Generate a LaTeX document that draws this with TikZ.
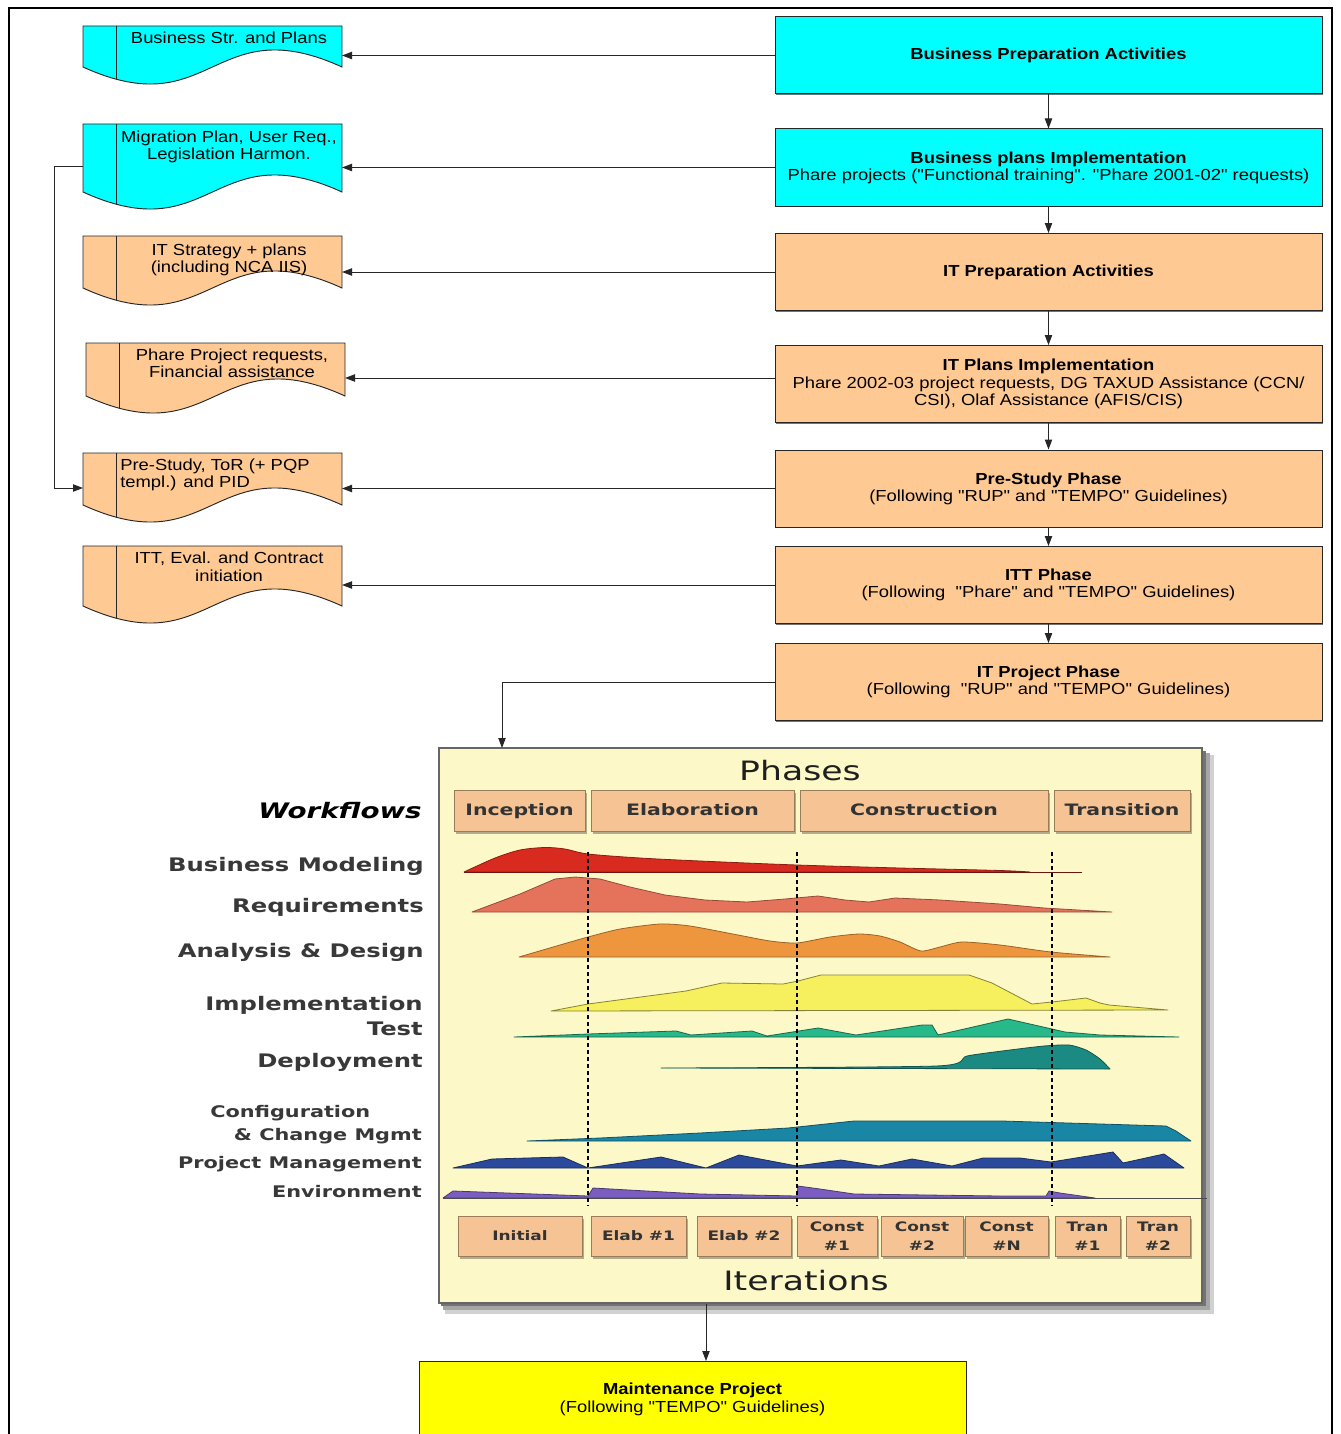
\documentclass[tikz,border=0pt]{standalone}
\usepackage{fontspec}
\setmainfont{Liberation Sans}[FakeStretch=1.15,Ligatures=TeXOff]
\newfontfamily\rupf{DejaVu Sans}[FakeStretch=1.3]
\usetikzlibrary{arrows.meta,shadows}
\definecolor{cyanfill}{HTML}{00FFFF}
\definecolor{peachfill}{HTML}{FFC993}
\definecolor{maintfill}{HTML}{FFFF00}
\definecolor{panelfill}{HTML}{FCF8C8}
\definecolor{tabfill}{HTML}{F6C494}
\definecolor{tabline}{HTML}{9A7B5A}
\definecolor{bmred}{HTML}{D82A1E}
\definecolor{reqsal}{HTML}{E5735B}
\definecolor{adorange}{HTML}{EE963E}
\definecolor{impyel}{HTML}{F6EF5E}
\definecolor{testgreen}{HTML}{28B98A}
\definecolor{depteal}{HTML}{1B8A82}
\definecolor{cfgblue}{HTML}{1A86A5}
\definecolor{pmnavy}{HTML}{2C4A9C}
\definecolor{envpurple}{HTML}{7B5DC2}
\newcommand\docshape[5]{%
  \pgfmathsetmacro\dmx{(#1+#3)/2}%
  \path[fill=#5] (#1,#2) -- (#3,#2) -- (#3,#4) .. controls (\dmx,#4-59) and (\dmx,#4+59) .. (#1,#4) -- cycle;
  \begin{scope}
    \clip (#1,#2) -- (#3,#2) -- (#3,#4) .. controls (\dmx,#4-59) and (\dmx,#4+59) .. (#1,#4) -- cycle;
    \draw[docedge] (#1+33,#2) -- (#1+33,#4+40);
  \end{scope}
  \draw[docedge] (#1,#2) -- (#3,#2) -- (#3,#4) .. controls (\dmx,#4-59) and (\dmx,#4+59) .. (#1,#4) -- cycle;
}
\begin{document}
\begin{tikzpicture}[x=0.75pt,y=-0.75pt,
  font=\fontsize{12}{13}\selectfont,
  docedge/.style={draw=black!85,line width=0.7pt},
  pbox/.style={draw=black!85,line width=0.75pt,minimum width=410.25pt,minimum height=57.75pt,inner sep=0pt,align=center,
    font=\fontsize{12}{12.9}\selectfont,
    drop shadow={shadow xshift=1pt,shadow yshift=-1pt,fill=black!55,opacity=1}},
  doctext/.style={inner sep=0pt,align=center,anchor=north,font=\fontsize{12}{13}\selectfont},
  arr/.style={draw=black!85,line width=0.75pt,-{Triangle[length=7.5pt,width=5.5pt]}},
  hump/.style={line width=0.6pt,line join=round},
  wf/.style={font=\rupf\bfseries\fontsize{14}{16}\selectfont,text=black!78,inner sep=0pt,anchor=base east},
  wfs/.style={font=\rupf\bfseries\fontsize{12}{14}\selectfont,text=black!78,inner sep=0pt,anchor=base east},
  tab/.style={draw=tabline,fill=tabfill,line width=0.6pt,inner sep=0pt,minimum height=30.75pt,
    text height=8pt,text depth=0pt,
    font=\rupf\bfseries\fontsize{11.8}{13}\selectfont,text=black!80,
    drop shadow={shadow xshift=1.5pt,shadow yshift=-2.5pt,fill=black,opacity=0.3}},
  itbox/.style={draw=tabline,fill=tabfill,line width=0.6pt,inner sep=0pt,minimum height=30pt,align=center,
    font=\rupf\bfseries\fontsize{9.8}{14}\selectfont,text=black!80,
    drop shadow={shadow xshift=1.5pt,shadow yshift=-2.5pt,fill=black,opacity=0.3}},
  vsep/.style={line width=2.1pt,dash pattern=on 3pt off 2.3pt,black}
]
\useasboundingbox (0,0) rectangle (1341,1434);
\fill[white] (0,0) rectangle (1341,1434);
% outer frame
\draw[line width=2.2pt] (9,1440) -- (9,8) -- (1332,8) -- (1332,1440);

% right-hand process boxes
\node[pbox,fill=cyanfill] (b1) at (1048.5,55.5) {\textbf{Business Preparation Activities}};
\node[pbox,fill=cyanfill] (b2) at (1048.5,167.5) {\textbf{Business plans Implementation}\\Phare projects ("Functional training". "Phare 2001-02" requests)};
\node[pbox,fill=peachfill] (b3) at (1048.5,272) {\textbf{IT Preparation Activities}};
\node[pbox,fill=peachfill] (b4) at (1048.5,384) {\textbf{IT Plans Implementation}\\Phare 2002-03 project requests, DG TAXUD Assistance (CCN/\\CSI), Olaf Assistance (AFIS/CIS)};
\node[pbox,fill=peachfill] (b5) at (1048.5,488.5) {\textbf{Pre-Study Phase}\\(Following "RUP" and "TEMPO" Guidelines)};
\node[pbox,fill=peachfill] (b6) at (1048.5,585) {\textbf{ITT Phase}\\(Following\ \ "Phare" and "TEMPO" Guidelines)};
\node[pbox,fill=peachfill] (b7) at (1048.5,682) {\textbf{IT Project Phase}\\(Following\ \ "RUP" and "TEMPO" Guidelines)};
\node[pbox,fill=maintfill] (maint) at (692.5,1399.5) {};
\node[inner sep=0pt,align=center,font=\fontsize{12}{13.5}\selectfont] (mtext) at (692.5,1399) {\textbf{Maintenance Project}\\(Following "TEMPO" Guidelines)};

\draw[arr] (b1.south) -- (b2.north);
\draw[arr] (b2.south) -- (b3.north);
\draw[arr] (b3.south) -- (b4.north);
\draw[arr] (b4.south) -- (b5.north);
\draw[arr] (b5.south) -- (b6.north);
\draw[arr] (b6.south) -- (b7.north);

% document shapes
\docshape{83}{26}{342}{67}{cyanfill}
\docshape{83}{124}{342}{192}{cyanfill}
\docshape{83}{236}{342}{288}{peachfill}
\docshape{86}{343}{345}{396}{peachfill}
\docshape{83}{453}{342}{505}{peachfill}
\docshape{83}{546}{342}{606}{peachfill}

\node[doctext] (t1) at (229,32) {Business Str. and Plans};
\node[doctext] (t2) at (229,130.5) {Migration Plan, User Req.,\\Legislation Harmon.};
\node[doctext] (t3) at (229,243.5) {IT Strategy + plans\\(including NCA IIS)};
\node[doctext] (t4) at (232,348.5) {Phare Project requests,\\Financial assistance};
\node[doctext,anchor=north west,align=left] (t5) at (120,458.5) {Pre-Study, ToR (+ PQP\\templ.) and PID};
\node[doctext] (t6) at (229,552) {ITT, Eval. and Contract\\initiation};

\coordinate (d1r) at (342,55.5);
\coordinate (d2r) at (342,167.5);
\coordinate (d3r) at (342,272);
\coordinate (d4r) at (345,378);
\coordinate (d5r) at (342,488.5);
\coordinate (d6r) at (342,585);
\coordinate (d2l) at (83,167);
\coordinate (d5l) at (83,488);
\draw[arr] (b1.west) -- (d1r);
\draw[arr] (b2.west) -- (d2r);
\draw[arr] (b3.west) -- (d3r);
\draw[arr] (b4.west |- d4r) -- (d4r);
\draw[arr] (b5.west) -- (d5r);
\draw[arr] (b6.west) -- (d6r);
\draw[arr] (d2l) -- ++(-29,0) |- (d5l);

% RUP panel
\fill[black!18] (445,755) rectangle (1214,1314);
\fill[black!35] (443,753) rectangle (1210,1310);
\fill[black!55] (441,751) rectangle (1206,1306);
\node[draw=black!60,line width=1.2pt,fill=panelfill,minimum width=572.25pt,minimum height=416.25pt,inner sep=0pt] (rup) at (820.5,1025.5) {};
\coordinate (rupin) at (502,748);
\draw[arr] (b7.west) -| (rupin);
\coordinate (mtop) at (706,1361);
\draw[arr] (rup.south -| mtop) -- (mtop);

% humps
\filldraw[hump,fill=bmred,draw=bmred!65!black] plot[smooth,tension=0.5] coordinates {(464,872) (495,858) (520,850) (545,847.5) (565,849) (588,854) (640,858) (700,861) (797,865) (900,868) (1000,870.5) (1030,872)} -- cycle;
\draw[line width=0.6pt,bmred!50!black] (464,872) -- (1082,872);
\filldraw[hump,fill=reqsal,draw=reqsal!65!black] (472,912) -- (520,894) -- (555,879) -- (575,877) -- (600,879) -- (630,887) -- (665,895) -- (705,900) -- (747,902) -- (785,899) -- (818,896) -- (845,900) -- (869,902) -- (895,898) -- (940,900) -- (1000,904) -- (1044,908) -- (1112,912) -- cycle;
\filldraw[hump,fill=adorange,draw=adorange!65!black] plot[smooth,tension=0.4] coordinates {(519,957) (560,945) (588,937) (620,929) (660,924) (690,926) (738,935) (770,941) (797,943) (830,937) (859,934) (880,936) (900,942) (921,951) (940,947) (962,942) (1000,945) (1051,952) (1110,957)} -- cycle;
\filldraw[hump,fill=impyel,draw=impyel!55!black] (551,1011) -- (588,1004) -- (686,991) -- (722,983) -- (783,984) -- (798,981) -- (821,975) -- (969,975) -- (992,983) -- (1032,1004) -- (1052,1002) -- (1086,998) -- (1100,1003) -- (1109,1005) -- (1168,1010) -- cycle;
\filldraw[hump,fill=testgreen,draw=testgreen!55!black] (514,1037) -- (588,1034) -- (676,1031) -- (691,1035) -- (752,1031) -- (767,1036) -- (818,1028) -- (856,1035) -- (922,1025) -- (932,1025) -- (938,1035) -- (1008,1019) -- (1065,1032) -- (1100,1035) -- (1179,1037) -- cycle;
\filldraw[hump,fill=depteal,draw=depteal!60!black] plot[smooth,tension=0.4] coordinates {(661,1068) (936,1066) (967,1056) (1010,1050) (1044,1046) (1069,1045) (1086,1050) (1100,1059) (1110,1069)} -- cycle;
\filldraw[hump,fill=cfgblue,draw=cfgblue!60!black] (527,1141) -- (600,1138) -- (700,1133) -- (788,1128) -- (854,1121) -- (1002,1121) -- (1166,1126) -- (1176,1131) -- (1191,1141) -- cycle;
\filldraw[hump,fill=pmnavy,draw=pmnavy!60!black] (453,1168) -- (492,1159) -- (563,1157) -- (588,1168) -- (661,1157) -- (706,1168) -- (739,1155) -- (797,1166) -- (841,1160) -- (879,1166) -- (912,1159) -- (952,1166) -- (983,1158) -- (1020,1158) -- (1051,1162) -- (1113,1152) -- (1123,1163) -- (1164,1154) -- (1184,1168) -- cycle;
\filldraw[hump,fill=envpurple,draw=envpurple!60!black] (443,1198) -- (453,1191) -- (588,1196) -- (593,1188) -- (700,1194) -- (797,1196) -- (798,1186) -- (820,1189) -- (854,1194) -- (1000,1196) -- (1046,1196) -- (1049,1191) -- (1060,1193) -- (1095,1198) -- cycle;
\draw[line width=0.6pt,black!70] (443,1198) -- (1207,1198);

% phase separators
\draw[vsep] (588,852) -- (588,1206);
\draw[vsep] (797,852) -- (797,1206);
\draw[vsep] (1052,852) -- (1052,1206);

% phases
\node[font=\rupf\fontsize{20}{22}\selectfont,text=black!88,inner sep=0pt] (phases) at (800,771) {Phases};
\node[tab,minimum width=98.25pt] (pin) at (519.5,810.5) {Inception};
\node[tab,minimum width=152.25pt] (pel) at (692.5,810.5) {Elaboration};
\node[tab,minimum width=186pt] (pco) at (924,810.5) {Construction};
\node[tab,minimum width=102pt] (ptr) at (1122,810.5) {Transition};

% iterations
\node[itbox,minimum width=93pt] (i1) at (520,1236) {Initial};
\node[itbox,minimum width=71.25pt] (i2) at (638.5,1236) {Elab \#1};
\node[itbox,minimum width=70.5pt] (i3) at (744,1236) {Elab \#2};
\node[itbox,minimum width=60pt] (i4) at (837,1236) {Const\\\#1};
\node[itbox,minimum width=61.5pt] (i5) at (922,1236) {Const\\\#2};
\node[itbox,minimum width=62.25pt] (i6) at (1006.5,1236) {Const\\\#N};
\node[itbox,minimum width=48.75pt] (i7) at (1087.5,1236) {Tran\\\#1};
\node[itbox,minimum width=48pt] (i8) at (1158,1236) {Tran\\\#2};
\node[font=\rupf\fontsize{20}{22}\selectfont,text=black!88,inner sep=0pt] (iters) at (806,1281) {Iterations};

% workflow labels
\node[font=\rupf\bfseries\itshape\fontsize{16}{18}\selectfont,text=black,inner sep=0pt,anchor=base east] (lwf) at (422,818) {Workflows};
\node[wf] (l1) at (424,871) {Business Modeling};
\node[wf] (l2) at (424,912) {Requirements};
\node[wf] (l3) at (424,957) {Analysis \& Design};
\node[wf] (l4) at (423,1010) {Implementation};
\node[wf] (l5) at (423,1035) {Test};
\node[wf] (l6) at (423,1067) {Deployment};
\node[wfs,anchor=base west] (l7) at (210,1117) {Configuration};
\node[wfs] (l8) at (422,1140) {\& Change Mgmt};
\node[wfs] (l9) at (422,1168) {Project Management};
\node[wfs] (l10) at (422,1197) {Environment};
\end{tikzpicture}
\end{document}
